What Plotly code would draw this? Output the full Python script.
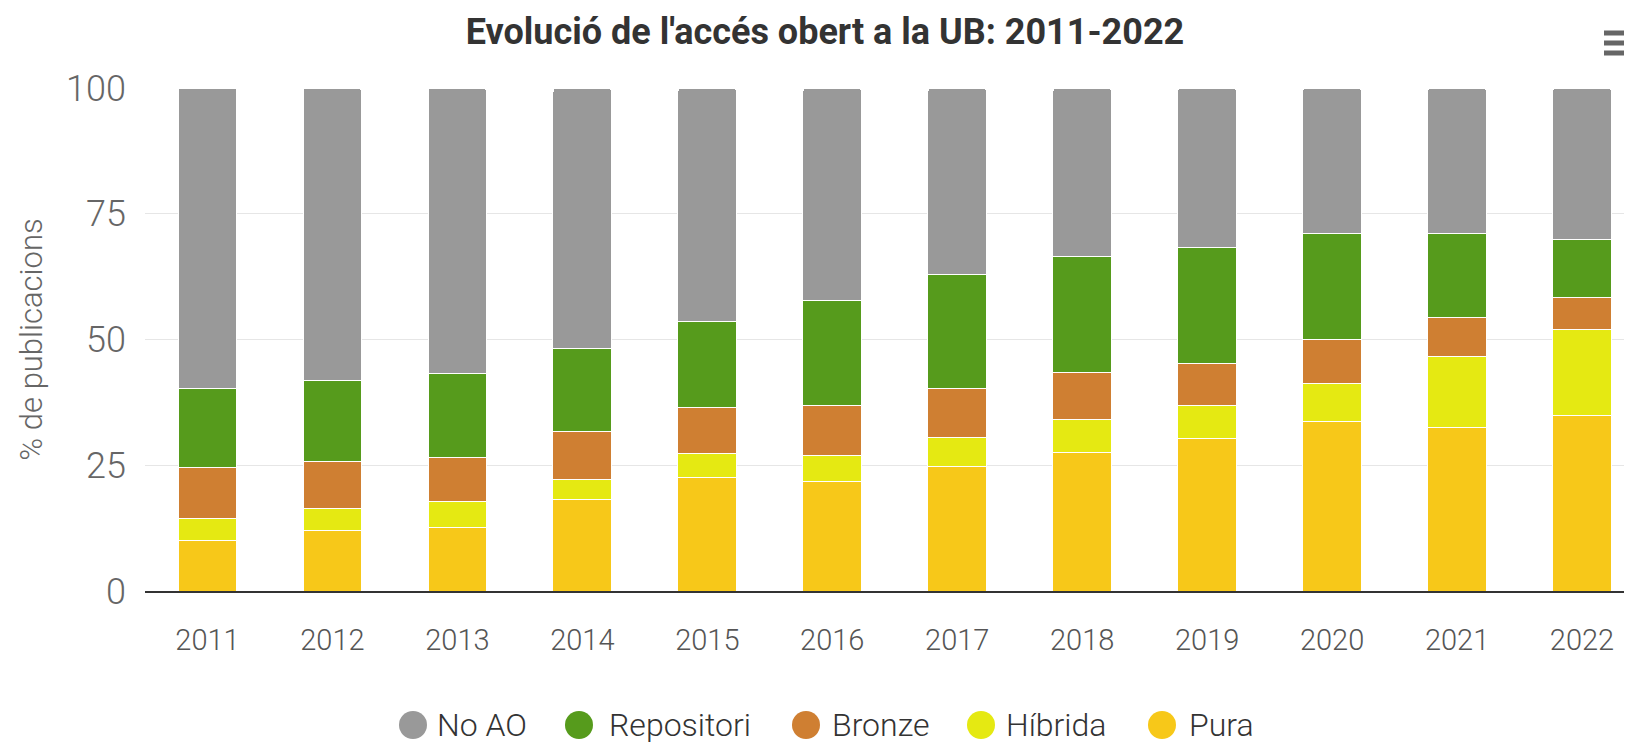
import plotly.graph_objects as go

years = ["2011", "2012", "2013", "2014", "2015", "2016", "2017", "2018", "2019", "2020", "2021", "2022"]
pura = [10.1, 12.1, 12.6, 18.1, 22.5, 21.7, 24.8, 27.6, 30.4, 33.6, 32.5, 34.8]
hibrida = [4.4, 4.4, 5.1, 4.1, 4.8, 5.2, 5.7, 6.4, 6.4, 7.6, 14.2, 17.2]
bronze = [10.0, 9.2, 8.8, 9.5, 9.2, 9.9, 9.8, 9.5, 8.4, 8.8, 7.7, 6.4]
repositori = [15.7, 16.1, 16.8, 16.5, 17.0, 21.0, 22.7, 23.1, 23.1, 21.1, 16.7, 11.4]
no_ao = [59.8, 58.2, 56.7, 51.8, 46.5, 42.2, 37.0, 33.4, 31.7, 28.9, 28.9, 30.2]
yticks = [0, 25, 50, 75, 100]

series = [
    ("Pura", pura, "#f7c819"),
    ("Híbrida", hibrida, "#e5e912"),
    ("Bronze", bronze, "#cf7f32"),
    ("Repositori", repositori, "#569b1c"),
    ("No AO", no_ao, "#999999"),
]

fig = go.Figure()
for name, vals, col in series:
    fig.add_trace(go.Bar(
        x=years, y=vals, name=name, showlegend=False,
        marker=dict(color=col, line=dict(color="#ffffff", width=1)),
    ))

# the page body has an 8px default margin: work in page pixels, offset into the figure
OFF = 8
PAGE_W, PAGE_H = 1632, 743
W, H = PAGE_W - OFF, PAGE_H - OFF
plot_left, plot_top, plot_bottom = 145, 88, 591
L, R = plot_left - OFF, 0
T, B = plot_top - OFF, H - (plot_bottom - OFF)
pw, ph = W - L - R, H - T - B

def px(x):
    return (x - OFF - L) / pw

def py(y):
    return (H - B - (y - OFF)) / ph

shapes = []
annotations = []

# export-menu icon (top right)
for yy in (33, 43, 53):
    shapes.append(dict(type="line", xref="paper", yref="paper",
                       x0=px(1604), x1=px(1640), y0=py(yy), y1=py(yy),
                       line=dict(color="#666666", width=5)))

# legend (circle symbols), reference order
legend_circle_x = [413, 579, 806, 981, 1162]
legend_text_x = [435, 607, 830, 1004, 1187]
legend_y = 725
rad = 14
for (name, vals, col), cx, tx in zip(reversed(series), legend_circle_x, legend_text_x):
    shapes.append(dict(type="circle", xref="paper", yref="paper",
                       x0=px(cx - rad), x1=px(cx + rad),
                       y0=py(legend_y + rad), y1=py(legend_y - rad),
                       fillcolor=col, line=dict(width=0)))
    annotations.append(dict(text=name, xref="paper", yref="paper",
                            x=px(tx), y=py(legend_y), xanchor="left",
                            yanchor="middle", showarrow=False,
                            font=dict(size=32, color="#333333", family="Roboto",
                                      weight=300)))

fig.update_layout(
    width=W, height=H, autosize=False,
    margin=dict(l=L, r=R, t=T, b=B, autoexpand=False),
    paper_bgcolor="#ffffff", plot_bgcolor="#ffffff",
    barmode="stack", bargap=0.53, barcornerradius=4,
    showlegend=False,
    font=dict(family="Roboto", color="#666666"),
    title=dict(text="<b>Evolució de l'accés obert a la UB: 2011-2022</b>",
               x=(825 - OFF) / W, xref="container", xanchor="center",
               y=1 - (31 - OFF) / H, yanchor="middle", yref="container",
               font=dict(size=36, color="#333333", family="Roboto")),
    xaxis=dict(type="category", categoryorder="array", categoryarray=years,
               range=[-0.5, 11.4], showgrid=False, showline=True,
               linecolor="#333333", linewidth=2, ticks="",
               tickfont=dict(size=29, color="#555555", weight=300),
               ticklabelstandoff=22, fixedrange=True),
    yaxis=dict(range=[0, 100], tickvals=yticks, showgrid=True,
               gridcolor="#e6e6e6", gridwidth=1, zeroline=False,
               showline=False, ticks="",
               tickfont=dict(size=36, color="#666666", weight=300),
               ticklabelstandoff=18,
               title=dict(text="% de publicacions", standoff=14,
                          font=dict(size=31, color="#666666", weight=300))),
    shapes=shapes,
    annotations=annotations,
)

fig.write_html("out.html")
